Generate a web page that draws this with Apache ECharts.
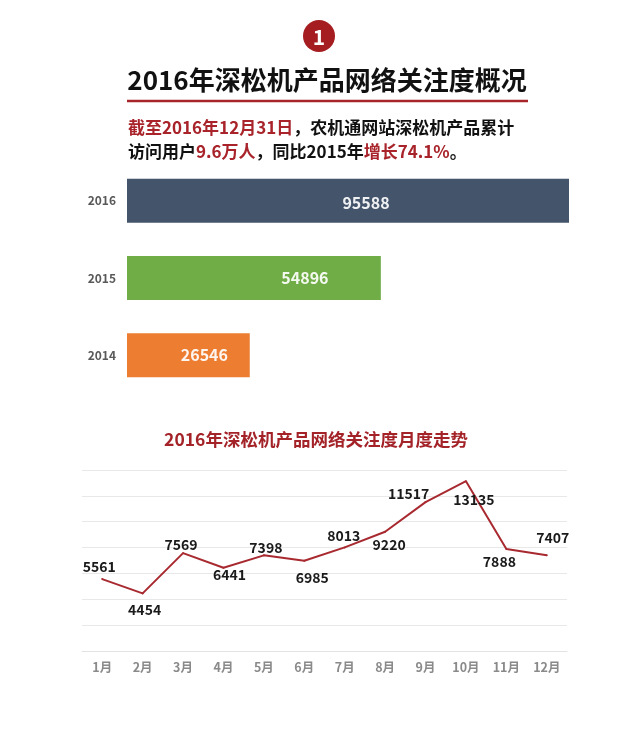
<!DOCTYPE html>
<html>
<head>
<meta charset="utf-8">
<script src="https://cdn.jsdelivr.net/npm/echarts@6/dist/echarts.min.js"></script>
<style>
  html, body { margin: 0; padding: 0; background: #fff; }
  #chart { width: 640px; height: 753px; }
</style>
</head>
<body>
<div id="chart"></div>
<script>
// yearly totals (bottom to top)
const years = ["2014", "2015", "2016"];
const yearTotals = [26546, 54896, 95588];

// monthly trend 2016
const months = ["1月", "2月", "3月", "4月", "5月", "6月", "7月", "8月", "9月", "10月", "11月", "12月"];
const monthValues = [5561, 4454, 7569, 6441, 7398, 6985, 8013, 9220, 11517, 13135, 7888, 7407];

// label placement (not data)
const barColors = ["#ed7d31", "#70ad47", "#44546a"];
const barLabelShift = [[16, 0], [51, 0], [18, 2]];
const monthLabelShift = [
  [-3, -12], [2, 16], [-2, -8], [6, 7], [2, -8], [8, 17],
  [-1, -12], [4, 13], [-17, -8], [8, 19], [-7, 13], [6, -18]
];

const RED = "#a8232a";
const LINE = "#a82a30";
const FONT = "Noto Sans CJK SC";

const chart = echarts.init(document.getElementById("chart"));

chart.setOption({
  backgroundColor: "#fff",
  textStyle: { fontFamily: FONT },
  animation: false,
  graphic: [
    { type: "circle", shape: { cx: 319, cy: 36, r: 16 }, style: { fill: "#a51d21" } },
    {
      type: "text", x: 319, y: 37,
      style: { text: "1", fill: "#fff", font: "bold 21px " + FONT, align: "center", verticalAlign: "middle" }
    },
    {
      type: "text", x: 327, y: 80,
      style: { text: "2016年深松机产品网络关注度概况", fill: "#111", font: "bold 26px " + FONT, align: "center", verticalAlign: "middle" }
    },
    { type: "line", shape: { x1: 127, y1: 101, x2: 528, y2: 101 }, style: { stroke: "#a8262b", lineWidth: 2.5 } },
    {
      type: "text", x: 128, y: 128,
      style: {
        text: "{r|截至2016年12月31日}{b|，农机通网站深松机产品累计}",
        verticalAlign: "middle",
        rich: {
          r: { fill: RED, font: "bold 17px " + FONT },
          b: { fill: "#111", font: "bold 17px " + FONT }
        }
      }
    },
    {
      type: "text", x: 128, y: 152,
      style: {
        text: "{b|访问用户}{r|9.6万人}{b|，同比2015年}{r|增长74.1%}{b|。}",
        verticalAlign: "middle",
        rich: {
          r: { fill: RED, font: "bold 17px " + FONT },
          b: { fill: "#111", font: "bold 17px " + FONT }
        }
      }
    },
    {
      type: "text", x: 316, y: 439,
      style: { text: "2016年深松机产品网络关注度月度走势", fill: "#a32328", font: "bold 17.5px " + FONT, align: "center", verticalAlign: "middle" }
    }
  ],
  grid: [
    { left: 127, right: 71, top: 162, height: 232 },
    { left: 82, right: 73, top: 470, bottom: 102 }
  ],
  xAxis: [
    { gridIndex: 0, type: "value", min: 0, max: 95588, show: false },
    {
      gridIndex: 1, type: "category", data: months, boundaryGap: true,
      axisLine: { lineStyle: { color: "#e3e3e3" } },
      axisTick: { show: false },
      axisLabel: { color: "#8a8a8a", fontWeight: "bold", fontSize: 12.5, margin: 10 }
    }
  ],
  yAxis: [
    {
      gridIndex: 0, type: "category", data: years,
      axisLine: { show: false }, axisTick: { show: false },
      axisLabel: { color: "#595959", fontWeight: "bold", fontSize: 12, margin: 11 }
    },
    {
      gridIndex: 1, type: "value", min: 0, max: 14000, interval: 2000,
      axisLabel: { show: false }, axisLine: { show: false }, axisTick: { show: false },
      splitLine: { lineStyle: { color: "#e8e8e8" } }
    }
  ],
  series: [
    {
      type: "bar", xAxisIndex: 0, yAxisIndex: 0, barWidth: 44,
      data: yearTotals.map((v, i) => ({
        value: v,
        itemStyle: { color: barColors[i] },
        label: { offset: barLabelShift[i] }
      })),
      label: {
        show: true, position: "inside",
        color: "rgba(255,255,255,0.92)", fontWeight: "bold", fontSize: 16
      }
    },
    {
      type: "line", xAxisIndex: 1, yAxisIndex: 1,
      symbol: "circle", symbolSize: 2,
      itemStyle: { color: LINE },
      lineStyle: { color: LINE, width: 2 },
      data: monthValues.map((v, i) => ({ value: v, label: { offset: monthLabelShift[i] } })),
      label: {
        show: true, position: "inside",
        color: "#1a1a1a", fontWeight: "bold", fontSize: 14
      }
    }
  ]
});

window.addEventListener("resize", () => chart.resize());
</script>
</body>
</html>
